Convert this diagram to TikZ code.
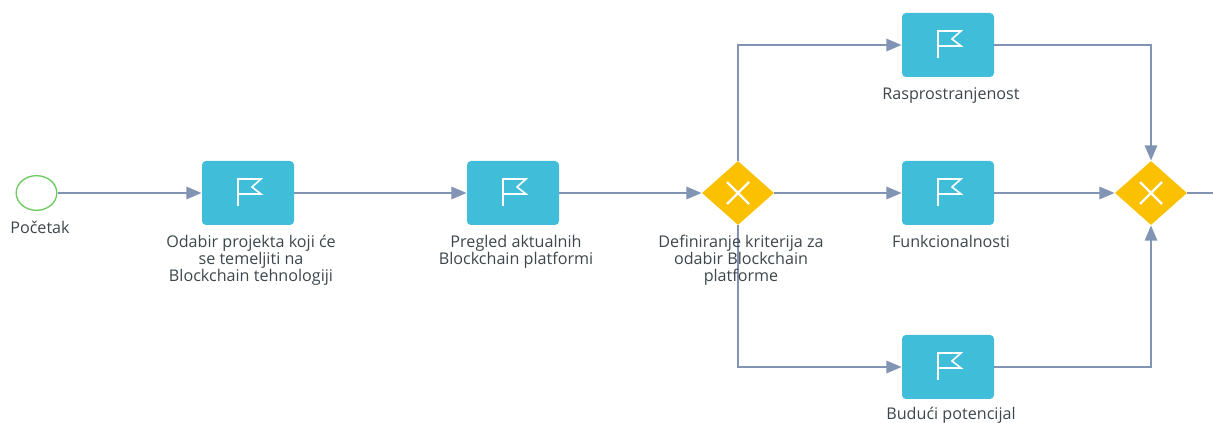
\documentclass[tikz,border=0pt]{standalone}
\usepackage{fontspec}
\setmainfont{Open Sans}
\usepackage{xcolor}
\usetikzlibrary{arrows.meta,shapes.geometric}

\definecolor{taskblue}{RGB}{64,189,216}
\definecolor{gategold}{RGB}{251,192,0}
\definecolor{startgreen}{RGB}{108,203,95}
\definecolor{flowblue}{RGB}{130,148,180}
\definecolor{labelgrey}{RGB}{62,70,76}

\tikzset{
  task/.style={rectangle,rounded corners=3pt,fill=taskblue,minimum width=69pt,minimum height=48pt,inner sep=0pt},
  gateway/.style={diamond,fill=gategold,minimum width=54pt,minimum height=48pt,inner sep=0pt},
  start/.style={ellipse,draw=startgreen,line width=1pt,fill=white,minimum width=30.5pt,minimum height=26pt,inner sep=0pt},
  flow/.style={draw=flowblue,line width=2.2pt,-{Triangle[length=11.5pt,width=9pt]}},
  tasklabel/.style={text=labelgrey,font=\fontsize{12.1}{12.8}\selectfont,align=center,anchor=north,inner sep=0pt},
  flagicon/.pic={
    \draw[white,line width=1.2pt,line join=miter] (-10,13) -- (-10,-14) -- (13,-14) -- (4,-6) -- (13,1) -- (-10,1);
  },
  crossicon/.pic={
    \draw[white,line width=1.7pt] (-11,-11) -- (11,11) (-11,11) -- (11,-11);
  }
}

\begin{document}
\begin{tikzpicture}[x=0.75pt,y=-0.75pt]
\useasboundingbox (0,0) rectangle (1213,423);

  % Start event
  \node[start] (begin) at (36.5,193) {};

  % Tasks with their flags
  \foreach \name/\x/\y in {odabir/248/193,pregled/513/193,raspr/948/45,funkc/948/193,buduci/948/367}
  {
    \node[task] (\name) at (\x,\y) {};
    \draw (\x,\y) pic {flagicon};
  }

  % Gateways
  \foreach \name/\x in {gwsplit/738,gwjoin/1151}
  {
    \node[gateway] (\name) at (\x,193) {};
    \draw (\x,193) pic {crossicon};
  }

  \coordinate (rightend) at (1213,193);

  % Connectors
  \draw[flow] (begin) -- (odabir);
  \draw[flow] (odabir) -- (pregled);
  \draw[flow] (pregled) -- (gwsplit);
  \draw[flow] (gwsplit.north) |- (raspr);
  \draw[flow] (gwsplit) -- (funkc);
  \draw[flow] (gwsplit.south) |- (buduci);
  \draw[flow] (raspr) -| (gwjoin.north);
  \draw[flow] (funkc) -- (gwjoin);
  \draw[flow] (buduci) -| (gwjoin.south);
  \draw[flow,-] (gwjoin) -- (rightend);

  % Labels
  \node[tasklabel] (lbegin) at (40,220.5) {Početak};
  \node[tasklabel] (lodabir) at (251,234.5) {Odabir projekta koji će\\se temeljiti na\\Blockchain tehnologiji};
  \node[tasklabel] (lpregled) at (516,234.5) {Pregled aktualnih\\Blockchain platformi};
  \node[tasklabel] (lgwsplit) at (741,234.5) {Definiranje kriterija za\\odabir Blockchain\\platforme};
  \node[tasklabel] (lraspr) at (951,87) {Rasprostranjenost};
  \node[tasklabel] (lfunkc) at (951,234.5) {Funkcionalnosti};
  \node[tasklabel] (lbuduci) at (951,407) {Budući potencijal};

\end{tikzpicture}
\end{document}
